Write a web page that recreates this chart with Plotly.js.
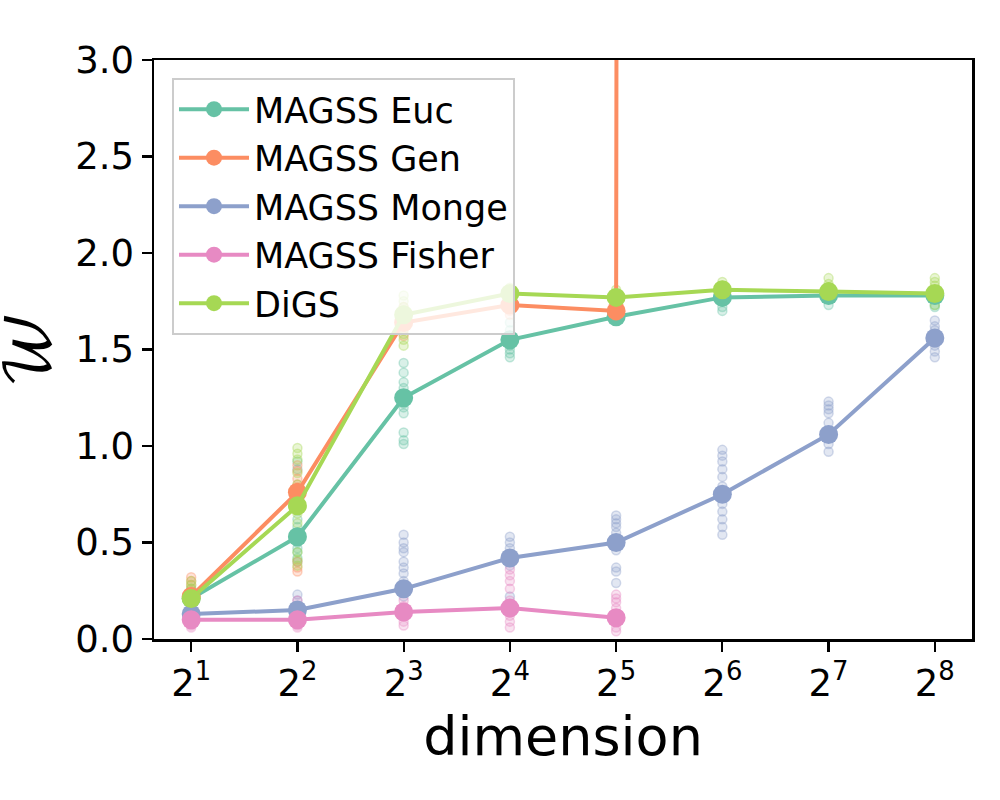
<!DOCTYPE html>
<html>
<head>
<meta charset="utf-8">
<script src="https://cdn.plot.ly/plotly-3.0.1.min.js"></script>
<style>
  body { margin: 0; background: #fff; }
  #plot { width: 1000px; height: 800px; }
</style>
</head>
<body>
<div id="plot"></div>
<script>
// dimensions on the x axis (log2 scale)
var dims = [2, 4, 8, 16, 32, 64, 128, 256];
var tickLabels = ['2<sup>1</sup>', '2<sup>2</sup>', '2<sup>3</sup>', '2<sup>4</sup>',
                  '2<sup>5</sup>', '2<sup>6</sup>', '2<sup>7</sup>', '2<sup>8</sup>'];

// mean values per method
var eucMean    = [0.21, 0.53, 1.25, 1.55, 1.67, 1.77, 1.78, 1.78];
var genMean    = [0.22, 0.76, 1.64, 1.73, 1.70, 420.0, 390.0, 310.0]; // blows up after 2^5
var mongeMean  = [0.13, 0.15, 0.26, 0.42, 0.50, 0.75, 1.06, 1.56];
var fisherMean = [0.10, 0.10, 0.14, 0.16, 0.11, null, null, null];
var digsMean   = [0.21, 0.69, 1.68, 1.79, 1.77, 1.81, 1.80, 1.79];

// individual runs per dimension
var eucRuns = [
  [0.18, 0.20, 0.21, 0.22, 0.24, 0.26, 0.19, 0.23],
  [0.92, 0.88, 0.62, 0.58, 0.55, 0.50, 0.47, 0.45, 0.42, 0.40],
  [1.43, 1.38, 1.33, 1.30, 1.27, 1.24, 1.22, 1.20, 1.17, 1.07, 1.03, 1.01],
  [1.64, 1.60, 1.57, 1.55, 1.52, 1.50, 1.48, 1.46],
  [1.70, 1.68, 1.67, 1.66, 1.65],
  [1.80, 1.77, 1.75, 1.72, 1.70],
  [1.82, 1.78, 1.76, 1.73],
  [1.80, 1.78, 1.76, 1.73, 1.72]
];
var genRuns = [
  [0.32, 0.30, 0.28, 0.25, 0.22, 0.20],
  [0.90, 0.87, 0.83, 0.80, 0.76, 0.70, 0.40, 0.37, 0.35],
  [1.72, 1.68, 1.65, 1.62, 1.60, 1.57],
  [1.80, 1.75, 1.72, 1.70, 1.68],
  [1.74, 1.71, 1.69, 1.67],
  [], [], []
];
var mongeRuns = [
  [0.16, 0.14, 0.13, 0.12, 0.10],
  [0.23, 0.20, 0.17, 0.15, 0.13, 0.12],
  [0.54, 0.50, 0.47, 0.45, 0.40, 0.37, 0.34, 0.30, 0.26, 0.22],
  [0.53, 0.50, 0.47, 0.44, 0.42, 0.38, 0.22],
  [0.64, 0.62, 0.60, 0.58, 0.55, 0.50, 0.46, 0.37, 0.35, 0.29],
  [0.98, 0.95, 0.92, 0.88, 0.84, 0.79, 0.74, 0.70, 0.66, 0.62, 0.58, 0.54],
  [1.23, 1.21, 1.19, 1.17, 1.12, 1.08, 1.05, 1.01, 0.97],
  [1.65, 1.62, 1.60, 1.57, 1.55, 1.52, 1.49, 1.46]
];
var fisherRuns = [
  [0.13, 0.11, 0.09, 0.07, 0.06],
  [0.20, 0.16, 0.13, 0.11, 0.09, 0.07, 0.06],
  [0.20, 0.17, 0.14, 0.12, 0.09, 0.07],
  [0.40, 0.36, 0.33, 0.30, 0.26, 0.20, 0.16, 0.12, 0.09, 0.06],
  [0.23, 0.21, 0.19, 0.16, 0.12, 0.09, 0.06, 0.04],
  [], [], []
];
var digsRuns = [
  [0.30, 0.28, 0.26, 0.24, 0.22, 0.20],
  [0.99, 0.96, 0.93, 0.86, 0.80, 0.72, 0.65, 0.60, 0.45, 0.41, 0.38],
  [1.78, 1.75, 1.72, 1.68, 1.62, 1.58, 1.55, 1.52],
  [1.82, 1.80, 1.78, 1.76],
  [1.81, 1.79, 1.77, 1.75],
  [1.85, 1.83, 1.81, 1.79],
  [1.87, 1.84, 1.81, 1.78],
  [1.87, 1.85, 1.83, 1.79, 1.76, 1.73]
];

var names  = ['MAGSS Euc', 'MAGSS Gen', 'MAGSS Monge', 'MAGSS Fisher', 'DiGS'];
var colors = ['102,194,165', '252,141,98', '141,160,203', '231,138,195', '166,216,84'];
var means  = [eucMean, genMean, mongeMean, fisherMean, digsMean];
var runs   = [eucRuns, genRuns, mongeRuns, fisherRuns, digsRuns];

var traces = [];

// faint scatter of the runs, below the mean lines
for (let k = 0; k < names.length; k++) {
    let xs = [], ys = [];
    for (let i = 0; i < dims.length; i++) {
        for (let v of runs[k][i]) {
            xs.push(dims[i]);
            ys.push(v);
        }
    }
    traces.push({
        x: xs, y: ys,
        type: 'scatter', mode: 'markers',
        showlegend: false, hoverinfo: 'skip',
        marker: {size: 9, color: 'rgba(' + colors[k] + ',0.25)',
                 line: {width: 1.5, color: 'rgba(' + colors[k] + ',0.38)'}}
    });
}

// mean lines
for (let k = 0; k < names.length; k++) {
    traces.push({
        x: dims, y: means[k],
        type: 'scatter', mode: 'lines+markers',
        name: names[k],
        line: {color: 'rgb(' + colors[k] + ')', width: 4},
        marker: {size: 19, color: 'rgb(' + colors[k] + ')'}
    });
}

var axisFont = {family: 'DejaVu Sans', size: 37, color: '#000'};

var layout = {
    width: 1000, height: 800,
    margin: {l: 154, r: 28, t: 60, b: 161},
    paper_bgcolor: '#fff', plot_bgcolor: '#fff',
    font: {family: 'DejaVu Sans', color: '#000'},
    xaxis: {
        type: 'log',
        range: [Math.log10(2) * 0.65, Math.log10(256) + Math.log10(2) * 0.35],
        tickvals: dims, ticktext: tickLabels,
        tickfont: axisFont,
        ticks: 'outside', ticklen: 10, tickwidth: 2.2, tickcolor: '#000',
        showline: true, linecolor: '#000', linewidth: 2.5, mirror: true,
        showgrid: false, zeroline: false,
        title: {text: 'dimension', font: {family: 'DejaVu Sans', size: 54, color: '#000'}, standoff: 12}
    },
    yaxis: {
        range: [0, 3.0],
        tickvals: [0, 0.5, 1.0, 1.5, 2.0, 2.5, 3.0],
        ticktext: ['0.0', '0.5', '1.0', '1.5', '2.0', '2.5', '3.0'],
        tickfont: axisFont,
        ticks: 'outside', ticklen: 10, tickwidth: 2.2, tickcolor: '#000',
        showline: true, linecolor: '#000', linewidth: 2.5, mirror: true,
        showgrid: false, zeroline: false,
        title: {text: '\uD835\uDCB2', font: {family: 'DejaVu Math TeX Gyre, DejaVu Serif, serif', size: 62, color: '#000'}, standoff: 22}
    },
    legend: {
        x: 0.022, y: 0.969, xanchor: 'left', yanchor: 'top',
        bgcolor: 'rgba(255,255,255,0.8)',
        bordercolor: '#cccccc', borderwidth: 2,
        itemwidth: 70,
        font: {family: 'DejaVu Sans', size: 35, color: '#000'}
    },
    showlegend: true
};

Plotly.newPlot('plot', traces, layout, {displayModeBar: false, staticPlot: true});
</script>
</body>
</html>
